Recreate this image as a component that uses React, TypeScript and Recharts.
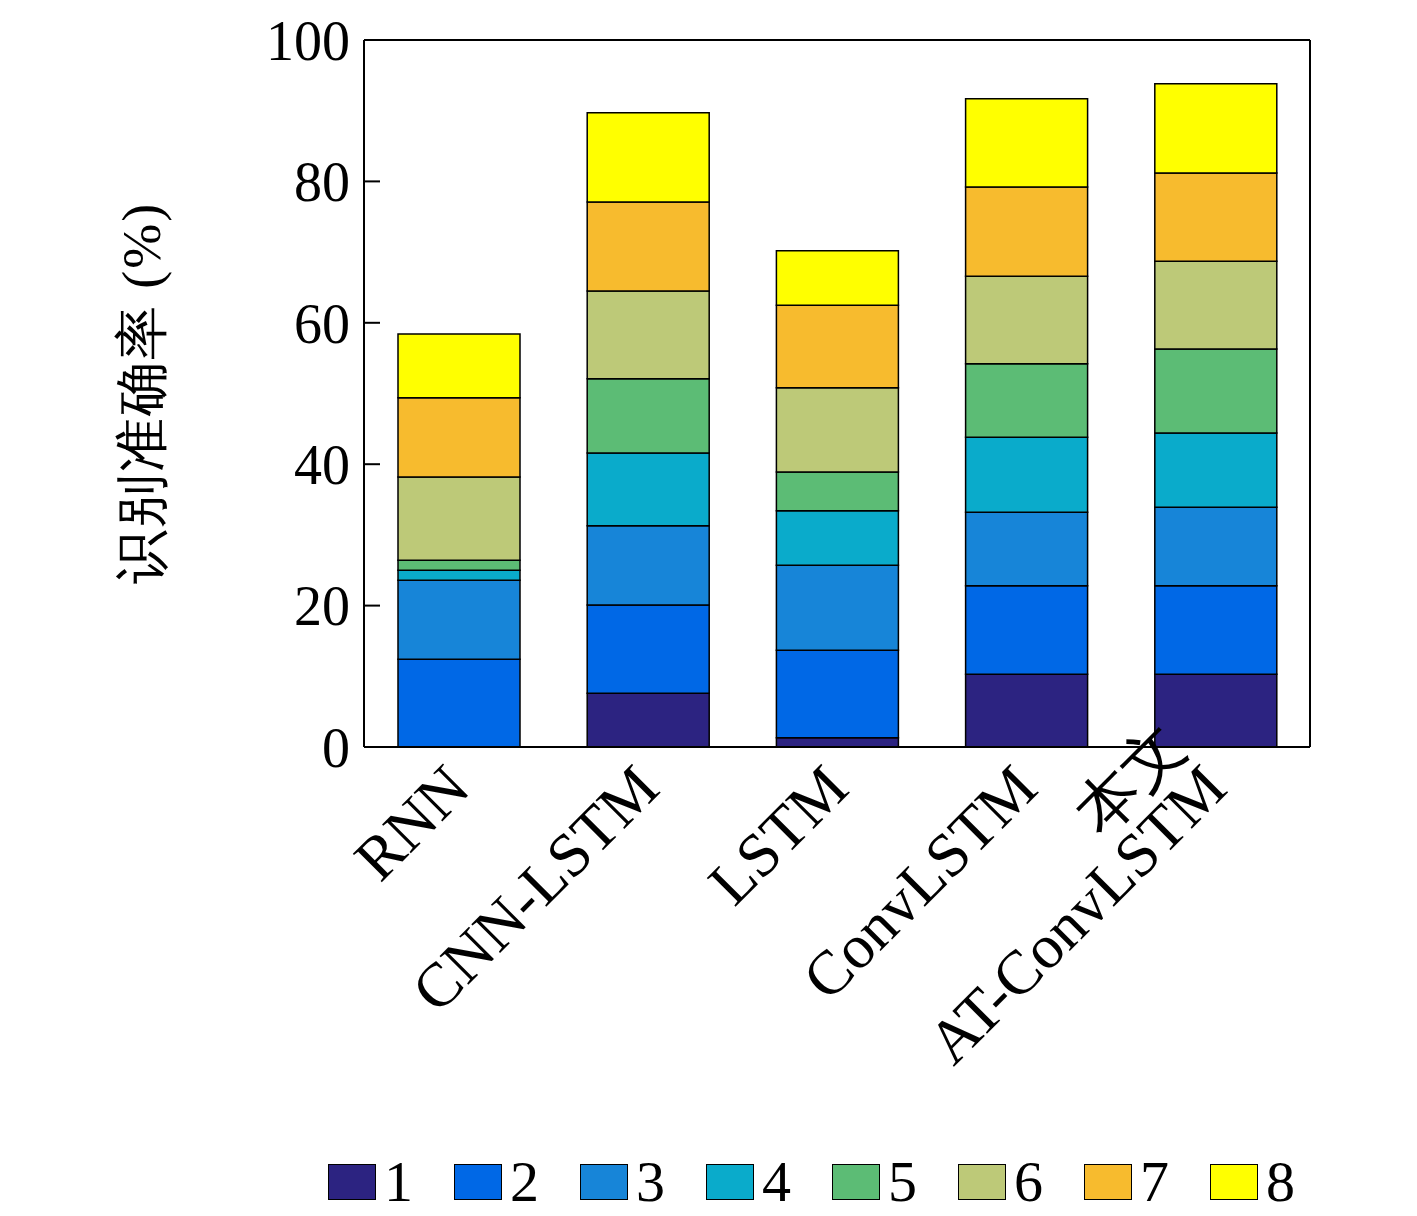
import { BarChart, Bar, XAxis, YAxis } from 'recharts';

const models = ['RNN', 'CNN-LSTM', 'LSTM', 'ConvLSTM', '本文\nAT-ConvLSTM'];
const s1 = [0, 7.6, 1.3, 10.3, 10.3];
const s2 = [12.4, 12.5, 12.4, 12.5, 12.5];
const s3 = [11.2, 11.2, 12.0, 10.4, 11.1];
const s4 = [1.4, 10.3, 7.7, 10.6, 10.5];
const s5 = [1.4, 10.5, 5.5, 10.4, 11.9];
const s6 = [11.8, 12.4, 11.9, 12.4, 12.4];
const s7 = [11.2, 12.6, 11.7, 12.6, 12.5];
const s8 = [9.0, 12.6, 7.7, 12.5, 12.6];
const series = [s1, s2, s3, s4, s5, s6, s7, s8];
const names = ['1', '2', '3', '4', '5', '6', '7', '8'];
const colors = ['#2c2381', '#0068e6', '#1785d8', '#0aabcb', '#5cbc75', '#bdc978', '#f7bb2e', '#ffff00'];
const yTicks = [0, 20, 40, 60, 80, 100];

const data = models.map((m, i) => {
  const row: any = { name: m };
  series.forEach((s, k) => (row['s' + k] = s[i]));
  return row;
});

const FONT = '"Liberation Serif", "DejaVu Serif", serif';

const XTick = (p: any) => {
  const lines = String(p.payload.value).split('\n');
  return (
    <g transform={`translate(${p.x},${p.y + 22}) rotate(-45)`}>
      {lines.map((l, i) => (
        <text key={i} x={0} y={(i - lines.length + 1) * 58} dy={20} textAnchor="end" fontSize={62} fontFamily={FONT}>{l}</text>
      ))}
    </g>
  );
};

const axisLine = { stroke: '#000', strokeWidth: 2 };

export default function App() {
  return (
    <div style={{ position: 'absolute', left: 0, top: 0, width: 1417, height: 1216, background: '#fff' }}>
      <BarChart width={1417} height={1216} data={data} barSize={122}
        margin={{ top: 39, right: 7, left: 264, bottom: 69 }}>
        <XAxis dataKey="name" height={400} tick={<XTick />} tickLine={false} axisLine={axisLine} interval={0} />
        <XAxis xAxisId="top" orientation="top" dataKey="name" height={1} tickFormatter={() => ''} tickLine={false} axisLine={axisLine} />
        <YAxis width={100} domain={[0, 100]} ticks={yTicks} tickSize={-16} tickMargin={30}
          tick={{ fill: '#000', fontSize: 56, fontFamily: FONT }} tickLine={axisLine} axisLine={axisLine} />
        <YAxis yAxisId="r" orientation="right" width={100} domain={[0, 100]} ticks={yTicks} tickSize={-16}
          tickFormatter={() => ''} tickLine={axisLine} axisLine={axisLine} />
        {series.map((_, k) => (
          <Bar key={k} dataKey={'s' + k} name={names[k]} stackId="a" fill={colors[k]} stroke="#000" strokeWidth={1.5} isAnimationActive={false} />
        ))}
      </BarChart>
      <div style={{ position: 'absolute', left: 142, top: 393, transform: 'translate(-50%,-50%) rotate(-90deg)', fontSize: 54, fontFamily: FONT, whiteSpace: 'nowrap', letterSpacing: 2 }}>
        识别准确率 (%)
      </div>
      <div style={{ position: 'absolute', left: 328, top: 1148, display: 'flex', fontFamily: FONT, fontSize: 58 }}>
        {names.map((n, k) => (
          <div key={n} style={{ display: 'flex', alignItems: 'center', width: 126 }}>
            <div style={{ width: 46, height: 34, background: colors[k], border: '1.5px solid #000', marginRight: 8 }} />
            <span>{n}</span>
          </div>
        ))}
      </div>
    </div>
  );
}
